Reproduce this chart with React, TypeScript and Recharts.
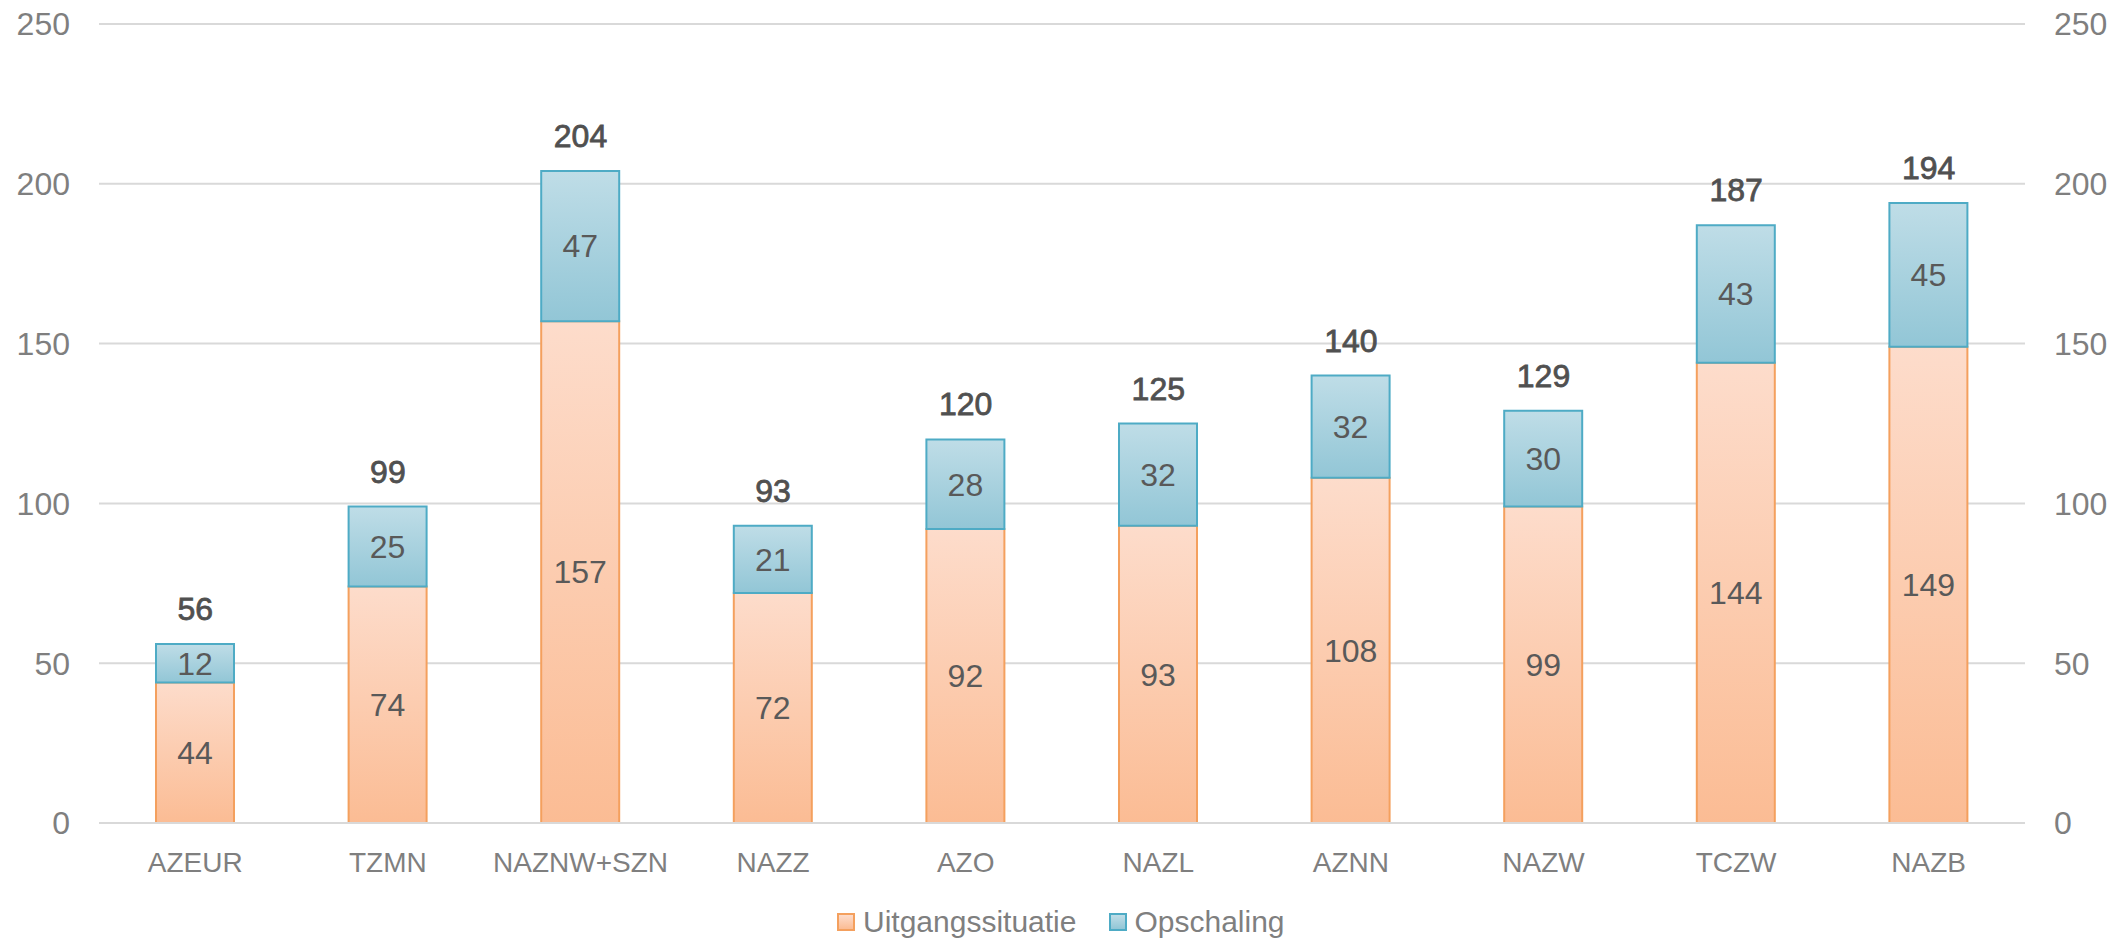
import React from 'react'
import { ComposedChart, Bar, Line, XAxis, YAxis, CartesianGrid, LabelList } from 'recharts'

const regions = ['AZEUR', 'TZMN', 'NAZNW+SZN', 'NAZZ', 'AZO', 'NAZL', 'AZNN', 'NAZW', 'TCZW', 'NAZB']
const uitgangssituatie = [44, 74, 157, 72, 92, 93, 108, 99, 144, 149]
const opschaling = [12, 25, 47, 21, 28, 32, 32, 30, 43, 45]
const yTicks = [0, 50, 100, 150, 200, 250]

const data = regions.map((name, i) => ({
  name,
  base: uitgangssituatie[i],
  extra: opschaling[i],
  total: uitgangssituatie[i] + opschaling[i],
}))

const FONT = '"Liberation Sans", Arial, sans-serif'
const axisTick = { fill: '#7f7f7f', fontSize: 32, fontFamily: FONT }

const swatch = (border: string, from: string, to: string) => ({
  boxSizing: 'border-box' as const,
  width: 18,
  height: 18,
  border: `2px solid ${border}`,
  background: `linear-gradient(${from},${to})`,
})

export default function App() {
  return (
    <div style={{ position: 'relative', width: 2113, height: 938, fontFamily: FONT }}>
      <style>{`body{margin:0}`}</style>
      <ComposedChart
        width={2113}
        height={938}
        data={data}
        margin={{ top: 24, right: 0, bottom: 0, left: 0 }}
      >
        <defs>
          <linearGradient id="gradOrange" x1="0" y1="0" x2="0" y2="1">
            <stop offset="0%" stopColor="#fddccb" />
            <stop offset="100%" stopColor="#fbbc94" />
          </linearGradient>
          <linearGradient id="gradBlue" x1="0" y1="0" x2="0" y2="1">
            <stop offset="0%" stopColor="#bfdde7" />
            <stop offset="100%" stopColor="#92c6d6" />
          </linearGradient>
        </defs>
        <CartesianGrid yAxisId="left" vertical={false} stroke="#d9d9d9" strokeWidth={2} />
        <XAxis
          dataKey="name"
          height={115}
          tickLine={false}
          axisLine={{ stroke: '#d9d9d9', strokeWidth: 2 }}
          tickSize={0}
          tickMargin={29}
          tick={{ ...axisTick, fontSize: 28 }}
          interval={0}
        />
        <YAxis
          yAxisId="left"
          width={99}
          domain={[0, 250]}
          ticks={yTicks}
          axisLine={false}
          tickLine={false}
          tickSize={0}
          tickMargin={29}
          tick={axisTick}
        />
        <YAxis
          yAxisId="right"
          orientation="right"
          width={88}
          domain={[0, 250]}
          ticks={yTicks}
          axisLine={false}
          tickLine={false}
          tickSize={0}
          tickMargin={29}
          tick={axisTick}
        />
        <Bar
          yAxisId="left"
          dataKey="base"
          stackId="a"
          barSize={78}
          fill="url(#gradOrange)"
          stroke="#f4a05e"
          strokeWidth={2}
          isAnimationActive={false}
        >
          <LabelList dataKey="base" position="center" fill="#595959" fontSize={32} fontFamily={FONT} />
        </Bar>
        <Bar
          yAxisId="left"
          dataKey="extra"
          stackId="a"
          barSize={78}
          fill="url(#gradBlue)"
          stroke="#4eabc5"
          strokeWidth={2}
          isAnimationActive={false}
        >
          <LabelList dataKey="extra" position="center" fill="#595959" fontSize={32} fontFamily={FONT} />
        </Bar>
        {/* totals: invisible line on the right axis, only its labels show */}
        <Line
          yAxisId="right"
          dataKey="total"
          stroke="none"
          dot={false}
          activeDot={false}
          legendType="none"
          isAnimationActive={false}
        >
          <LabelList
            dataKey="total"
            position="top"
            offset={24}
            fill="#505050"
            stroke="#505050"
            strokeWidth={0.8}
            fontSize={32}
            fontFamily={FONT}
          />
        </Line>
      </ComposedChart>
      <div
        style={{
          position: 'absolute',
          top: 903,
          left: 837,
          display: 'flex',
          alignItems: 'center',
          fontSize: 30,
          color: '#7f7f7f',
          lineHeight: '38px',
        }}
      >
        <span style={{ ...swatch('#f4a05e', '#fddccb', '#fbbc94'), marginRight: 8 }} />
        <span>Uitgangssituatie</span>
        <span style={{ ...swatch('#4eabc5', '#bfdde7', '#92c6d6'), marginLeft: 33, marginRight: 7 }} />
        <span>Opschaling</span>
      </div>
    </div>
  )
}
